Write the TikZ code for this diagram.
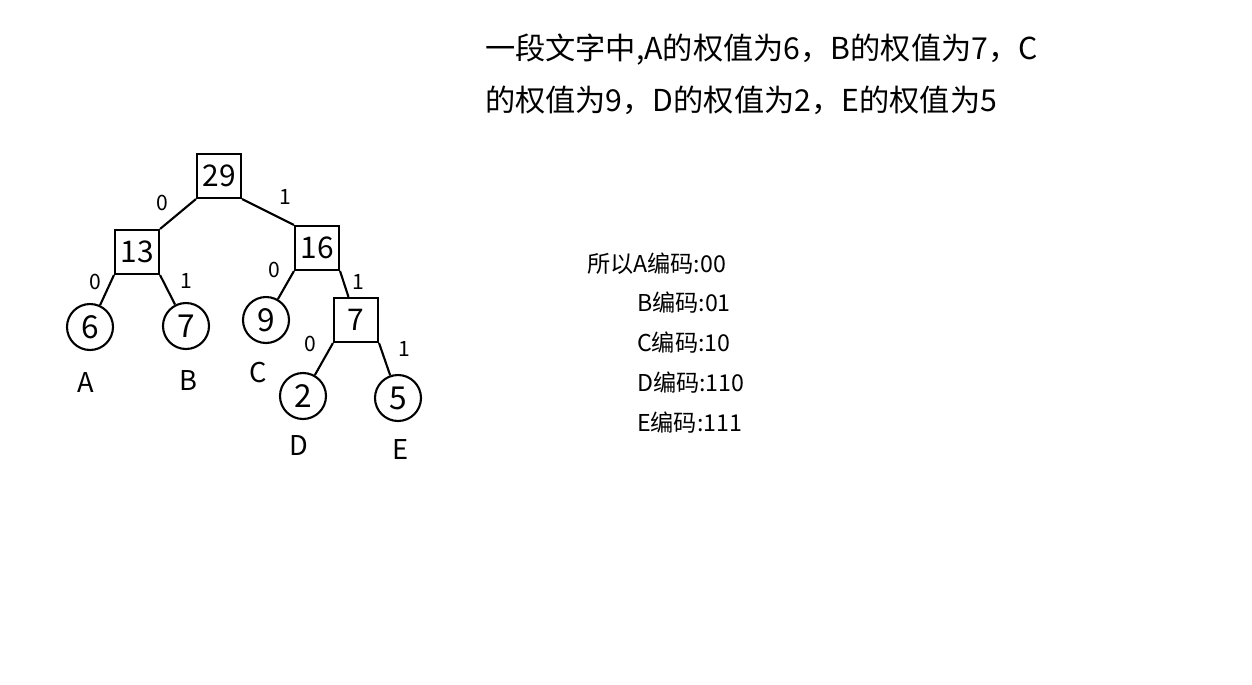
\documentclass[tikz,border=0pt]{standalone}
\usepackage{fontspec}
\setmainfont{Noto Sans CJK SC}
\usepackage{tikz}
\tikzstyle{sumBox} = [draw, rectangle, line width=1.2pt, minimum size=0.88cm, inner sep=0pt, font=\fontsize{17}{19}\selectfont]
\tikzstyle{leaf} = [draw, circle, line width=1.2pt, minimum size=0.92cm, inner sep=0pt, font=\fontsize{18}{20}\selectfont]
\tikzstyle{bit} = [inner sep=0pt, font=\fontsize{12}{14}\selectfont]
\tikzstyle{letter} = [inner sep=0pt, font=\fontsize{15.5}{17}\selectfont]
\tikzstyle{code} = [anchor=west, inner sep=0pt, font=\fontsize{13.2}{15}\selectfont]

\begin{document}
\begin{tikzpicture}[x=0.02cm, y=-0.02cm, line width=1.2pt]
  \useasboundingbox (0,0) rectangle (1252,684);
  % the tree
  \node[sumBox] (r) at (219,176) {29};
  \node[sumBox] (p) at (137,252) {13};
  \node[sumBox] (q) at (317,248) {16};
  \node[sumBox] (s) at (356,320) {7};
  \node[leaf] (a) at (90,327) {6};
  \node[leaf] (b) at (186,326) {7};
  \node[leaf] (c) at (266,320) {9};
  \node[leaf] (d) at (303,396) {2};
  \node[leaf] (e) at (398,398) {5};

  \draw (r.south west) -- (p.north east);
  \draw (r.south east) -- (q.north west);
  \draw (p.south west) -- (a);
  \draw (p.south east) -- (b);
  \draw (q.south west) -- (c);
  \draw (q.south east) -- (s);
  \draw (s.south west) -- (d);
  \draw (s.south east) -- (e);

  % 0/1 on the branches
  \node[bit] (rp) at (162,203) {0};
  \node[bit] (rq) at (285,197) {1};
  \node[bit] (pa) at (95,282) {0};
  \node[bit] (pb) at (186,281) {1};
  \node[bit] (qc) at (274,270) {0};
  \node[bit] (qs) at (358,282) {1};
  \node[bit] (sd) at (310,344) {0};
  \node[bit] (se) at (404,349) {1};

  % names under the leaves
  \node[letter] (la) at (86,383) {A};
  \node[letter] (lb) at (188,381) {B};
  \node[letter] (lc) at (258,373) {C};
  \node[letter] (ld) at (299,446) {D};
  \node[letter] (le) at (401,450) {E};

  % text
  \node[anchor=west, inner sep=0pt, font=\fontsize{17.2}{20}\selectfont] (t1) at (484,50) {一段文字中,A的权值为6，B的权值为7，C};
  \node[anchor=west, inner sep=0pt, font=\fontsize{17.2}{20}\selectfont] (t2) at (484,100) {的权值为9，D的权值为2，E的权值为5};

  \node[code] (ca) at (586,264) {所以A编码:00};
  \node[code] (cb) at (636,303) {B编码:01};
  \node[code] (cc) at (636,343) {C编码:10};
  \node[code] (cd) at (636,383) {D编码:110};
  \node[code] (ce) at (636,423) {E编码:111};
\end{tikzpicture}
\end{document}
